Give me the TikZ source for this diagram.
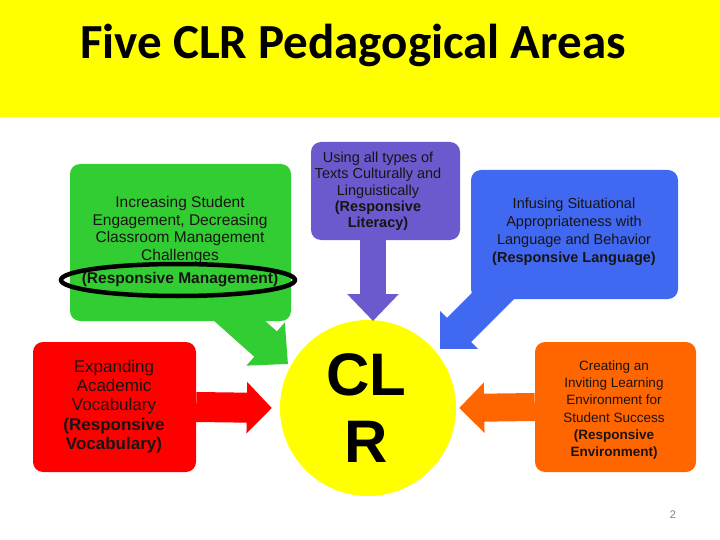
\documentclass[tikz,border=0pt]{standalone}
\usepackage{fontspec}
\setmainfont{Liberation Sans}
\newfontfamily\titlefont{Carlito}
\usetikzlibrary{arrows.meta}
\pgfdeclarelayer{back}
\pgfdeclarelayer{base}
\pgfsetlayers{base,back,main}
\definecolor{bandyellow}{RGB}{255,255,0}
\definecolor{boxgreen}{RGB}{50,205,50}
\definecolor{boxpurple}{RGB}{106,90,205}
\definecolor{boxblue}{RGB}{64,104,240}
\definecolor{boxred}{RGB}{255,0,0}
\definecolor{boxorange}{RGB}{255,102,0}
\definecolor{txtdark}{RGB}{25,20,20}
\tikzset{
  box/.style={rectangle, rounded corners=10pt, inner sep=0pt, draw=none},
  txt/.style={align=center, text=txtdark, inner sep=0pt},
  barrow/.style n args={3}{line width=#1, -{Triangle[width=#2, length=#3]}},
}
\begin{document}
\begin{tikzpicture}[x=1pt, y=-1pt]
\useasboundingbox (0,0) rectangle (720,540);
\begin{pgfonlayer}{base}
\fill[white] (0,0) rectangle (720,540);
\fill[bandyellow] (0,0) rectangle (720,117);
\end{pgfonlayer}
% title
\node[inner sep=0pt, font=\titlefont\bfseries\fontsize{49}{52}\selectfont] (title) at (353,45) {Five CLR Pedagogical Areas};

% centre circle
\node[circle, fill=bandyellow, minimum size=176pt, inner sep=0pt] (circ) at (368,408) {};
\node[txt, text=black, font=\bfseries\fontsize{60}{67}\selectfont] (clr) at (366,408) {CL\\R};

% boxes
\node[box, fill=boxgreen, minimum width=221pt, minimum height=157pt] (green) at (180.5,242.5) {};
\node[box, fill=boxblue, minimum width=207pt, minimum height=129pt] (blue) at (574.5,234.5) {};
\node[box, fill=boxpurple, minimum width=149pt, minimum height=98pt] (purple) at (385.5,191) {};
\node[box, fill=boxred, minimum width=163pt, minimum height=130pt] (red) at (114.5,407) {};
\node[box, fill=boxorange, minimum width=161pt, minimum height=130pt] (orange) at (615.5,407) {};

% callout tails (under their boxes)
\coordinate (gtip) at (288,364);
\coordinate (btip) at (440,349);
\begin{pgfonlayer}{back}
\draw[boxgreen, barrow={34pt}{56pt}{30pt}] ([shift={(25pt,-48pt)}]green.center) -- (gtip);
\draw[boxblue, barrow={34pt}{52pt}{27pt}] ([shift={(-70pt,-50pt)}]blue.center) -- (btip);
\end{pgfonlayer}

% block arrows to the circle
\coordinate (ptip) at (373,321);
\draw[boxpurple, barrow={26pt}{50pt}{27pt}] (purple.south -| ptip) -- (ptip);
\draw[boxred, barrow={30pt}{50pt}{25pt}] (red.east) -- ([xshift=-8pt]circ.west);
\draw[boxorange, barrow={28pt}{49pt}{25pt}] (orange.west) -- ([xshift=3pt]circ.east);

% texts
\node[txt, font=\fontsize{15.5}{17.5}\selectfont] (gtext) at (180,230) {Increasing Student\\Engagement, Decreasing\\Classroom Management\\Challenges};
\node[txt, font=\bfseries\fontsize{15.5}{17.5}\selectfont] (gbold) at (180,280) {(Responsive Management)};
\draw[black, line width=4.5pt] (178,280) ellipse [x radius=117, y radius=16];

\node[txt, font=\fontsize{14.5}{16.3}\selectfont] (ptext) at (378,191.5) {Using all types of\\Texts Culturally and\\Linguistically\\\textbf{(Responsive}\\\textbf{Literacy)}};

\node[txt, font=\fontsize{14.5}{18}\selectfont] (btext) at (574,232) {Infusing Situational\\Appropriateness with\\Language and Behavior\\\textbf{(Responsive Language)}};

\node[txt, font=\fontsize{17}{19.3}\selectfont] (rtext) at (114,406.5) {Expanding\\Academic\\Vocabulary\\\textbf{(Responsive}\\\textbf{Vocabulary)}};

\node[txt, font=\fontsize{13.5}{17.2}\selectfont] (otext) at (614,410) {Creating an\\Inviting Learning\\Environment for\\Student Success\\\textbf{(Responsive}\\\textbf{Environment)}};

\node[inner sep=0pt, text=gray, font=\fontsize{11}{12}\selectfont] (pg) at (673,515) {2};
\end{tikzpicture}
\end{document}
